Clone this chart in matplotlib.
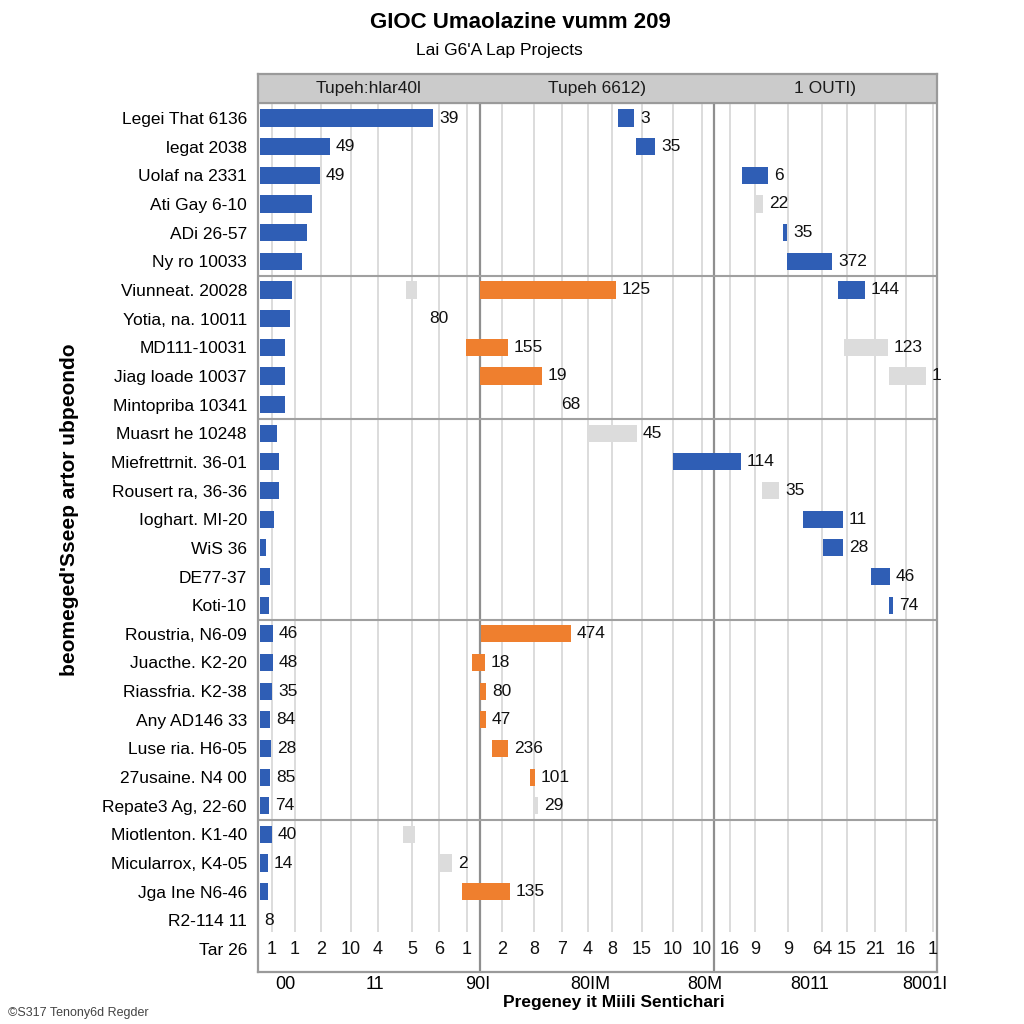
import numpy as np
import matplotlib
matplotlib.use("Agg")
import matplotlib.pyplot as plt

plt.rcParams['font.family'] = ['Liberation Sans', 'DejaVu Sans']

# --- data ---
row_labels = ["Legei That 6136", "legat 2038", "Uolaf na 2331", "Ati Gay 6-10", "ADi 26-57",
              "Ny ro 10033", "Viunneat. 20028", "Yotia, na. 10011", "MD111-10031",
              "Jiag loade 10037", "Mintopriba 10341", "Muasrt he 10248", "Miefrettrnit. 36-01",
              "Rousert ra, 36-36", "Ioghart. MI-20", "WiS 36", "DE77-37", "Koti-10",
              "Roustria, N6-09", "Juacthe. K2-20", "Riassfria. K2-38", "Any AD146 33",
              "Luse ria. H6-05", "27usaine. N4 00", "Repate3 Ag, 22-60", "Miotlenton. K1-40",
              "Micularrox, K4-05", "Jga Ine N6-46", "R2-114 11", "Tar 26"]

# bars: row index, start, length, colour code, value label
bar_row = [0, 0, 1, 1, 2, 2, 3, 3, 4, 4, 5, 5,
           6, 6, 6, 6, 7, 7, 8, 8, 8, 9, 9, 9, 10, 10,
           11, 11, 12, 12, 13, 13, 14, 14, 15, 15, 16, 16, 17, 17,
           18, 18, 19, 19, 20, 20, 21, 21, 22, 22, 23, 23, 24, 24,
           25, 25, 26, 26, 27, 27, 28]
bar_start = [0.2, 36.0, 0.2, 37.8, 0.2, 48.4, 0.2, 49.7, 0.2, 52.5, 0.2, 52.9,
             0.2, 14.8, 22.2, 58.0, 0.2, 16.5, 0.2, 20.8, 58.6, 0.2, 22.2, 63.1, 0.2, 29.7,
             0.2, 33.0, 0.2, 41.5, 0.2, 50.4, 0.2, 54.5, 0.2, 56.5, 0.2, 61.3, 0.2, 63.1,
             0.2, 22.3, 0.2, 21.4, 0.2, 22.2, 0.2, 22.2, 0.2, 23.4, 0.2, 27.2, 0.2, 27.5,
             0.2, 14.5, 0.2, 18.2, 0.2, 20.4, 0.0]
bar_len = [17.3, 1.6, 7.0, 1.9, 6.0, 2.6, 5.2, 0.8, 4.7, 0.4, 4.2, 4.5,
           3.2, 1.1, 13.6, 2.7, 3.0, 0.0, 2.5, 4.2, 4.4, 2.5, 6.2, 3.7, 2.5, 0.0,
           1.7, 4.9, 1.9, 6.8, 1.9, 1.7, 1.4, 4.0, 0.6, 2.0, 1.0, 1.9, 0.9, 0.4,
           1.3, 9.0, 1.3, 1.3, 1.2, 0.6, 1.0, 0.6, 1.1, 1.6, 1.0, 0.5, 0.9, 0.5,
           1.2, 1.2, 0.8, 1.2, 0.8, 4.8, 0.0]
bar_kind = ['b', 'b', 'b', 'b', 'b', 'b', 'b', 'g', 'b', 'b', 'b', 'b',
            'b', 'g', 'o', 'b', 'b', 'g', 'b', 'o', 'g', 'b', 'o', 'g', 'b', 'g',
            'b', 'g', 'b', 'b', 'b', 'g', 'b', 'b', 'b', 'b', 'b', 'b', 'b', 'b',
            'b', 'o', 'b', 'o', 'b', 'o', 'b', 'o', 'b', 'o', 'b', 'o', 'b', 'g',
            'b', 'g', 'b', 'g', 'b', 'o', 'g']
bar_text = ["39", "3", "49", "35", "49", "6", "", "22", "", "35", "", "372",
            "", "", "125", "144", "", "80", "", "155", "123", "", "19", "1", "", "68",
            "", "45", "", "114", "", "35", "", "11", "", "28", "", "46", "", "74",
            "46", "474", "48", "18", "35", "80", "84", "47", "28", "236", "85", "101", "74", "29",
            "40", "", "14", "2", "", "135", "8"]

minor_pos = [1.4, 3.7, 6.3, 9.3, 12.0, 15.4, 18.1, 20.9, 24.4, 27.6, 30.4, 33.0,
             35.4, 38.4, 41.5, 44.4, 47.2, 49.7, 53.0, 56.4, 58.9, 61.7, 64.8, 67.5]
minor_lbl = ["1", "1", "2", "10", "4", "5", "6", "1", "2", "8", "7", "4",
             "8", "15", "10", "10", "16", "9", "9", "64", "15", "21", "16", "1"]
major_pos = [2.7, 11.7, 22.0, 33.2, 44.7, 55.2, 66.7]
major_lbl = ["00", "11", "90I", "80IM", "80M", "8011", "8001I"]

panel_titles = ["Tupeh:hlar40l", "Tupeh 6612)", "1 OUTI)"]
panel_edges = [0, 22.2, 45.6, 67.9]
group_breaks = [5.5, 10.5, 17.5, 24.5]

colors = {'b': '#2f5eb5', 'o': '#ef7f2e', 'g': '#dcdcdc'}

fig = plt.figure(figsize=(10.24, 10.24), dpi=100)
ax = fig.add_axes([0.252, 0.0508, 0.663, 0.8769])

n = len(row_labels)
ax.set_xlim(panel_edges[0], panel_edges[-1])
ax.set_ylim(29.8, -1.535)

# vertical grid lines
ax.vlines(minor_pos, -0.52, 28.4, color='#d6d6d6', lw=1.2, zorder=0)

# bars
for r, s, l, k, t in zip(bar_row, bar_start, bar_len, bar_kind, bar_text):
    if l > 0:
        ax.barh(r, l, left=s, height=0.6, color=colors[k], zorder=3)
    if t:
        ax.text(s + l + 0.6, r, t, va='center', ha='left', fontsize=12.5, color='#111111', zorder=4)

# header band
ax.axhspan(-1.535, -0.52, color='#cbcbcb', zorder=2)
ax.axhline(-0.52, color='#9a9a9a', lw=1.5, zorder=3)
for i, title in enumerate(panel_titles):
    ax.text((panel_edges[i] + panel_edges[i + 1]) / 2, -1.03, title, ha='center', va='center',
            fontsize=12.5, color='#1a1a1a', zorder=4)

# panel separators & group separators
for x in panel_edges[1:-1]:
    ax.vlines(x, -0.52, 29.8, color='#8f8f8f', lw=1.6, zorder=2)
for y in group_breaks:
    ax.axhline(y, color='#a0a0a0', lw=1.5, zorder=2)

# inner tick-number row
for x, t in zip(minor_pos, minor_lbl):
    ax.text(x, n - 1, t, ha='center', va='center', fontsize=13, color='#111111')

ax.set_yticks(range(n))
ax.set_yticklabels(row_labels, fontsize=12.5)
ax.set_xticks(major_pos)
ax.set_xticklabels(major_lbl, fontsize=13)
ax.tick_params(length=0, pad=8)
ax.tick_params(axis='x', pad=3)
for sp in ax.spines.values():
    sp.set_color('#9a9a9a')
    sp.set_linewidth(1.6)

ax.set_ylabel("beomeged'Sseep artor ubpeondo", fontsize=15, fontweight='bold')
ax.yaxis.set_label_coords(-0.263, 0.515)
fig.text(0.599, 1 - 1003 / 1024, "Pregeney it Miili Sentichari", ha='center', va='center',
         fontsize=12.5, fontweight='bold')

fig.text(0.508, 1 - 22 / 1024, "GIOC Umaolazine vumm 209", ha='center', va='center',
         fontsize=16, fontweight='bold')
fig.text(0.488, 1 - 50 / 1024, "Lai G6'A Lap Projects", ha='center', va='center', fontsize=12.5)
fig.text(0.008, 1 - 1013 / 1024, "\u00a9S317 Tenony6d Regder", ha='left', va='center',
         fontsize=9, color='#444444')

fig.savefig("out.png", dpi=100)
